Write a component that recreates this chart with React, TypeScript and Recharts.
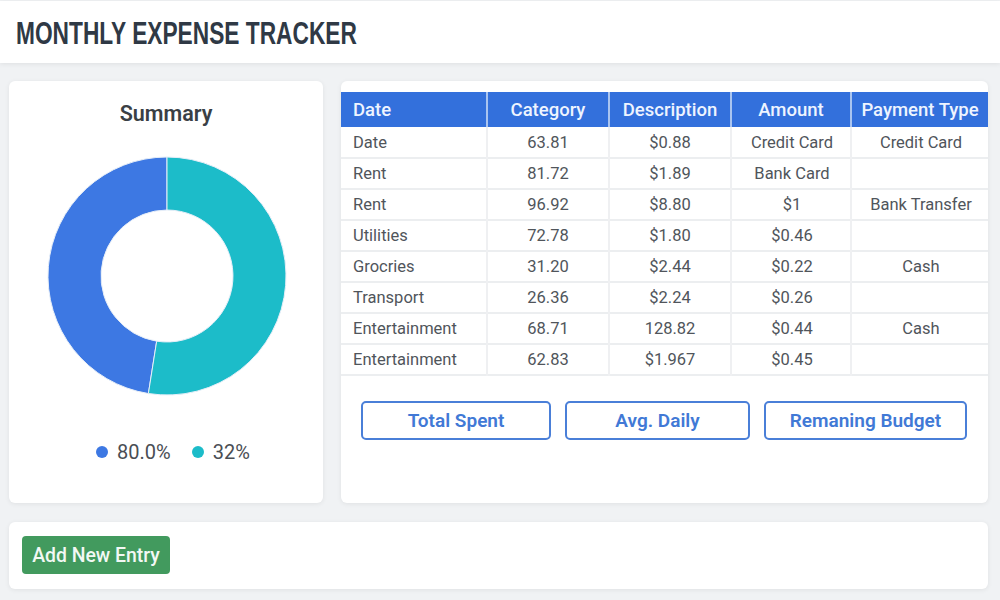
import { PieChart, Pie, Cell, Legend } from "recharts";

const SANS = "Roboto, 'Noto Sans', sans-serif";

const tableHeaders = ["Date", "Category", "Description", "Amount", "Payment Type"];
const dateCol = ["Date", "Rent", "Rent", "Utilities", "Grocries", "Transport", "Entertainment", "Entertainment"];
const categoryCol = ["63.81", "81.72", "96.92", "72.78", "31.20", "26.36", "68.71", "62.83"];
const descriptionCol = ["$0.88", "$1.89", "$8.80", "$1.80", "$2.44", "$2.24", "128.82", "$1.967"];
const amountCol = ["Credit Card", "Bank Card", "$1", "$0.46", "$0.22", "$0.26", "$0.44", "$0.45"];
const paymentCol = ["Credit Card", "", "Bank Transfer", "", "Cash", "", "Cash", ""];

const sliceLabels = ["80.0%", "32%"];
const sliceValues = [47.5, 52.5];
const sliceColors = ["#3d78e3", "#1cbcc9"];

const buttonLabels = ["Total Spent", "Avg. Daily", "Remaning Budget"];

const columnWidths = [146, 122, 122, 120, 137];
const columns = [dateCol, categoryCol, descriptionCol, amountCol, paymentCol];
const pieData = sliceLabels.map((name, i) => ({ name, value: sliceValues[i] }));

function panel(left: number, top: number, width: number, height: number): React.CSSProperties {
  return {
    position: "absolute",
    left,
    top,
    width,
    height,
    background: "#fff",
    borderRadius: 6,
    boxShadow: "0 1px 5px rgba(0,0,0,0.07)",
  };
}

function ExpenseTable() {
  return (
    <table
      style={{
        position: "absolute",
        left: 341,
        top: 92,
        width: 647,
        borderCollapse: "collapse",
        tableLayout: "fixed",
        fontFamily: SANS,
        fontSize: 16.5,
        color: "#50555b",
      }}
    >
      <colgroup>
        {columnWidths.map((w, i) => (
          <col key={i} style={{ width: w }} />
        ))}
      </colgroup>
      <thead>
        <tr style={{ height: 35, background: "#3370dc", color: "#eef4ff" }}>
          {tableHeaders.map((h, i) => (
            <th
              key={h}
              style={{
                padding: i === 0 ? "0 0 0 12px" : 0,
                textAlign: i === 0 ? "left" : "center",
                fontWeight: 500,
                fontSize: 18.5,
                whiteSpace: "nowrap",
                borderLeft: i === 0 ? "none" : "2px solid #a9c4f0",
              }}
            >
              {h}
            </th>
          ))}
        </tr>
      </thead>
      <tbody>
        {dateCol.map((_, r) => (
          <tr key={r} style={{ height: 31, borderBottom: "2px solid #eceef0" }}>
            {columns.map((col, c) => (
              <td
                key={c}
                style={{
                  padding: c === 0 ? "0 0 0 12px" : c >= 3 ? "0 0 0 2px" : 0,
                  textAlign: c === 0 ? "left" : "center",
                  borderLeft: c === 0 ? "none" : "2px solid #eff0f2",
                  whiteSpace: "nowrap",
                }}
              >
                {col[r]}
              </td>
            ))}
          </tr>
        ))}
      </tbody>
    </table>
  );
}

const buttonBoxes = [
  { left: 361, width: 190 },
  { left: 565, width: 185 },
  { left: 764, width: 203 },
];

export default function App() {
  return (
    <div
      style={{
        position: "absolute",
        left: 0,
        top: 0,
        width: 1000,
        height: 600,
        overflow: "hidden",
        background: "#f0f2f4",
        fontFamily: SANS,
      }}
    >
      <div
        style={{
          position: "absolute",
          left: 0,
          top: 1,
          width: 1000,
          height: 62,
          background: "#fff",
          boxShadow: "0 1px 5px rgba(0,0,0,0.08)",
        }}
      />
      <div
        style={{
          position: "absolute",
          left: 16,
          top: 14,
          fontFamily: "'Liberation Sans', sans-serif",
          fontWeight: 700,
          fontSize: 32,
          lineHeight: "38px",
          color: "#2f3945",
          whiteSpace: "nowrap",
          transform: "scaleX(0.71)",
          transformOrigin: "left center",
        }}
      >
        MONTHLY EXPENSE TRACKER
      </div>

      <div style={panel(9, 81, 314, 422)}>
        <div
          style={{
            position: "absolute",
            left: 0,
            top: 20,
            width: 314,
            textAlign: "center",
            fontSize: 21.5,
            fontWeight: 600,
            color: "#3a3f45",
          }}
        >
          Summary
        </div>
        <div style={{ position: "absolute", left: 0, top: 0 }}>
          <PieChart width={314} height={422} margin={{ top: 0, right: 0, bottom: 0, left: 0 }}>
            <Pie
              data={pieData}
              dataKey="value"
              nameKey="name"
              cx={158}
              cy={195}
              innerRadius={66}
              outerRadius={119}
              startAngle={90}
              endAngle={450}
              stroke="#e6eef8"
              strokeWidth={1}
              isAnimationActive={false}
            >
              {pieData.map((d, i) => (
                <Cell key={d.name} fill={sliceColors[i]} />
              ))}
            </Pie>
            <Legend
              layout="horizontal"
              align="center"
              verticalAlign="bottom"
              iconType="circle"
              iconSize={12}
              itemSorter={(item) => item.payload?.value}
              wrapperStyle={{ top: 359, bottom: "auto", left: 17.5, width: 314 }}
              formatter={(value) => (
                <span
                  style={{
                    color: "#4a4e54",
                    fontSize: 20,
                    marginLeft: 5,
                    marginRight: 11,
                    verticalAlign: "middle",
                  }}
                >
                  {value}
                </span>
              )}
            />
          </PieChart>
        </div>
      </div>

      <div style={panel(341, 81, 647, 422)} />
      <ExpenseTable />

      {buttonLabels.map((label, i) => (
        <div
          key={label}
          style={{
            position: "absolute",
            top: 401,
            left: buttonBoxes[i].left,
            width: buttonBoxes[i].width,
            height: 39,
            boxSizing: "border-box",
            border: "2px solid #4a7fd8",
            borderRadius: 5,
            display: "flex",
            alignItems: "center",
            justifyContent: "center",
            color: "#4179d6",
            fontSize: 19,
            fontWeight: 600,
            background: "#fff",
          }}
        >
          {label}
        </div>
      ))}

      <div style={panel(9, 522, 979, 67)} />
      <div
        style={{
          position: "absolute",
          left: 22,
          top: 536,
          width: 148,
          height: 38,
          borderRadius: 4,
          background: "#429a5e",
          color: "#f2f8f4",
          fontSize: 19.4,
          fontWeight: 500,
          display: "flex",
          alignItems: "center",
          justifyContent: "center",
        }}
      >
        Add New Entry
      </div>
    </div>
  );
}
